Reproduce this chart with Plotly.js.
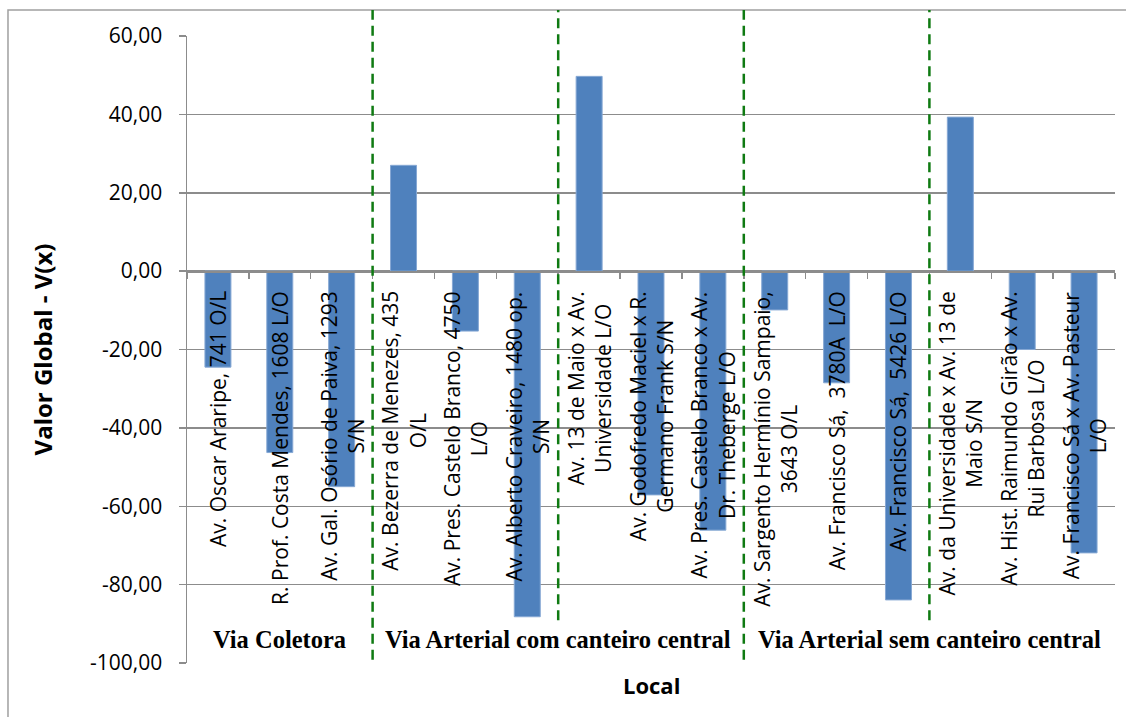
<!DOCTYPE html>
<html>
<head>
<meta charset="utf-8">
<script src="https://cdn.plot.ly/plotly-3.0.1.min.js"></script>
<style>
  html, body { margin: 0; padding: 0; background: #ffffff; }
  #chart { width: 1126px; height: 717px; }
</style>
</head>
<body>
<div id="chart"></div>
<script>
// ---- Data ----
const locais = [
  'Av. Oscar Araripe, 741 O/L',
  'R. Prof. Costa Mendes, 1608 L/O',
  'Av. Gal. Osório de Paiva, 1293<br>S/N',
  'Av. Bezerra de Menezes, 435<br>O/L',
  'Av. Pres. Castelo Branco, 4750<br>L/O',
  'Av. Alberto Craveiro, 1480 op.<br>S/N',
  'Av. 13 de Maio x Av.<br>Universidade L/O',
  'Av. Godofredo Maciel x R.<br>Germano Frank S/N',
  'Av. Pres. Castelo Branco x Av.<br>Dr. Theberge L/O',
  'Av. Sargento Hermínio Sampaio,<br>3643 O/L',
  'Av. Francisco Sá,  3780A  L/O',
  'Av. Francisco Sá,  5426 L/O',
  'Av. da Universidade x Av. 13 de<br>Maio S/N',
  'Av. Hist. Raimundo Girão x Av.<br>Rui Barbosa L/O',
  'Av. Francisco Sá x Av. Pasteur<br>L/O'
];
const valorGlobal = [-24.5, -46.3, -55.0, 27.0, -15.3, -88.2, 49.7, -57.1, -66.1, -9.9, -28.5, -83.9, 39.3, -20.0, -71.9];

const grupos = ['Via Coletora', 'Via Arterial com canteiro central', 'Via Arterial sem canteiro central'];
const tamanhoGrupos = [3, 6, 6];

const yTickVals = [-100, -80, -60, -40, -20, 0, 20, 40, 60];
const yTickText = ['-100,00', '-80,00', '-60,00', '-40,00', '-20,00', '0,00', '20,00', '40,00', '60,00'];

const yTitle = 'Valor Global - V(x)';
const xTitle = 'Local';

// ---- Styling ----
const GRAY = '#8c8c8c';
const GREEN = '#0f7a12';
const labelFont = { family: 'Open Sans, sans-serif', size: 21, color: '#000000' };

const trace = {
  type: 'bar',
  x: locais,
  y: valorGlobal,
  marker: { color: '#4F81BD', line: { color: '#86a8d4', width: 1 } },
  hoverinfo: 'x+y'
};

const annotations = [];
// rotated category labels below the zero line
locais.forEach(function (lab) {
  annotations.push({
    x: lab, y: 0, xref: 'x', yref: 'y',
    text: lab, textangle: -90, showarrow: false,
    xanchor: 'center', yanchor: 'top', align: 'center',
    yshift: -18, font: labelFont
  });
});

// group labels
let start = 0;
const shapes = [];
grupos.forEach(function (g, i) {
  const n = tamanhoGrupos[i];
  annotations.push({
    x: start + (n - 1) / 2, y: -94, xref: 'x', yref: 'y',
    text: '<b>' + g + '</b>', showarrow: false,
    xanchor: 'center', yanchor: 'middle',
    font: { family: 'Liberation Serif, Times New Roman, serif', size: 24.5, color: '#000000' }
  });
  // full divider between groups
  if (i > 0) {
    shapes.push({
      type: 'line', xref: 'x', yref: 'paper',
      x0: start - 0.5, x1: start - 0.5, y0: 0.005, y1: 1.0415,
      line: { color: GREEN, width: 2.5, dash: '10px,6px' }
    });
  }
  // short divider in the middle of larger groups
  if (n === 6) {
    const mid = start + n / 2 - 0.5;
    shapes.push({
      type: 'line', xref: 'x', yref: 'paper',
      x0: mid, x1: mid, y0: 0.068, y1: 1.0415,
      line: { color: GREEN, width: 2.5, dash: '10px,6px' }
    });
  }
  start += n;
});

// x title
annotations.push({
  x: 0.5, y: -0.035, xref: 'paper', yref: 'paper',
  text: '<b>' + xTitle + '</b>', showarrow: false,
  xanchor: 'center', yanchor: 'middle',
  font: { family: 'Open Sans, sans-serif', size: 22, color: '#000000' }
});

// outer chart border
shapes.push({
  type: 'rect', xref: 'paper', yref: 'paper',
  x0: -0.1929, x1: 1.1, y0: -0.2, y1: 1.0415,
  line: { color: '#a0a0a0', width: 1.5 }, fillcolor: 'rgba(0,0,0,0)', layer: 'below'
});

const layout = {
  width: 1126, height: 717,
  margin: { l: 187, r: 11, t: 36, b: 54 },
  paper_bgcolor: '#ffffff', plot_bgcolor: '#ffffff',
  showlegend: false,
  bargap: 0.58,
  xaxis: {
    type: 'category',
    anchor: 'free', position: 0.625,
    showline: true, linecolor: GRAY, linewidth: 1.5,
    ticks: 'outside', tickson: 'boundaries', ticklen: 6, tickcolor: GRAY, tickwidth: 1.5,
    showticklabels: false, showgrid: false, zeroline: false,
    fixedrange: true
  },
  yaxis: {
    range: [-100, 60], domain: [0, 1],
    tickmode: 'array', tickvals: yTickVals, ticktext: yTickText,
    showline: true, linecolor: GRAY, linewidth: 1.5,
    ticks: 'outside', ticklen: 7, tickcolor: GRAY, tickwidth: 1.5,
    ticklabelstandoff: 12,
    showgrid: true, gridcolor: GRAY, gridwidth: 1.5,
    zeroline: false,
    tickfont: { family: 'Open Sans, sans-serif', size: 21, color: '#000000' },
    title: { text: '<b>' + yTitle + '</b>', font: { family: 'Open Sans, sans-serif', size: 24, color: '#000000' }, standoff: 30 },
    automargin: false,
    fixedrange: true
  },
  annotations: annotations,
  shapes: shapes
};

Plotly.newPlot('chart', [trace], layout, { displayModeBar: false, staticPlot: true });
</script>
</body>
</html>
